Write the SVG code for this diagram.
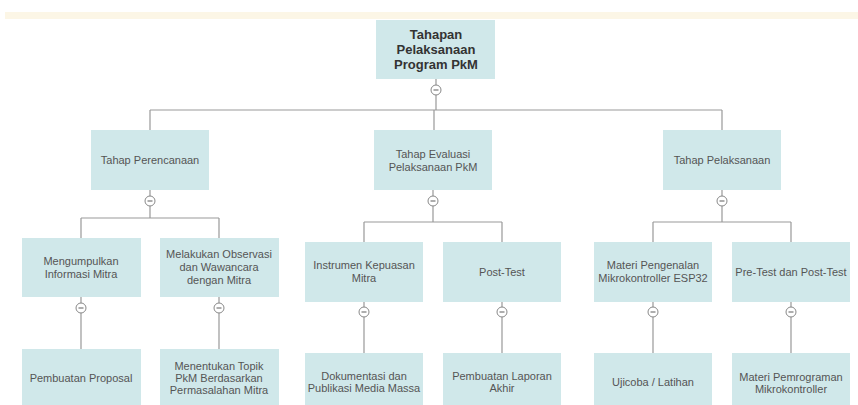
<svg xmlns="http://www.w3.org/2000/svg" width="858" height="405" viewBox="0 0 858 405">
<style>
.box{fill:#D0E8EA}
.t{font-family:"Liberation Sans",Arial,sans-serif;font-size:11px;fill:#555;text-anchor:middle;dominant-baseline:central}
.rt{font-family:"Liberation Sans",Arial,sans-serif;font-size:13px;font-weight:bold;fill:#333;text-anchor:middle;dominant-baseline:central}
.ln{stroke:#999;stroke-width:1.2;fill:none}
.tog circle{fill:#fff;stroke:#888;stroke-width:1}
.tog line{stroke:#777;stroke-width:1.2}
</style>
<defs>
<g id="tg" class="tog"><circle r="5"/><line x1="-2.5" y1="0" x2="2.5" y2="0"/></g>
</defs>
<rect x="5" y="12" width="853" height="7" fill="#FCF6E6"/>
<g id="connectors">
<path class="ln" d="M436 79V110M150 110H722M150 110V130M434 110V130M722 110V130"/>
<path class="ln" d="M150 190V218M81 218H219M81 218V238M219 218V238"/>
<path class="ln" d="M433 190V222M364 222H502M364 222V242M502 222V242"/>
<path class="ln" d="M722 190V222M653 222H791M653 222V242M791 222V242"/>
<path class="ln" d="M81 297V349M219 297V349"/>
<path class="ln" d="M364 302V353M502 302V353M653 302V353M791 302V353"/>
<use href="#tg" x="436" y="90"/>
<use href="#tg" x="150" y="201"/>
<use href="#tg" x="433" y="201"/>
<use href="#tg" x="722" y="201"/>
<use href="#tg" x="81" y="308"/>
<use href="#tg" x="219" y="308"/>
<use href="#tg" x="364" y="312"/>
<use href="#tg" x="502" y="312"/>
<use href="#tg" x="653" y="312"/>
<use href="#tg" x="791" y="312"/>
</g>
<g id="root"><rect class="box" x="376" y="20" width="119" height="59"/>
<text class="rt" x="436" y="34">Tahapan</text><text class="rt" x="436" y="49">Pelaksanaan</text><text class="rt" x="436" y="64">Program PkM</text></g>
<g id="perencanaan"><rect class="box" x="91" y="130" width="118" height="60"/><text class="t" x="150" y="160">Tahap Perencanaan</text></g>
<g id="evaluasi"><rect class="box" x="374" y="130" width="118" height="60"/><text class="t" x="433" y="154">Tahap Evaluasi</text><text class="t" x="433" y="167">Pelaksanaan PkM</text></g>
<g id="pelaksanaan"><rect class="box" x="663" y="130" width="118" height="60"/><text class="t" x="722" y="160">Tahap Pelaksanaan</text></g>
<g id="mengumpulkan"><rect class="box" x="22" y="238" width="119" height="59"/><text class="t" x="81" y="261">Mengumpulkan</text><text class="t" x="81" y="274">Informasi Mitra</text></g>
<g id="observasi"><rect class="box" x="160" y="238" width="119" height="59"/><text class="t" x="219" y="254">Melakukan Observasi</text><text class="t" x="219" y="267">dan Wawancara</text><text class="t" x="219" y="280">dengan Mitra</text></g>
<g id="instrumen"><rect class="box" x="305" y="242" width="118" height="60"/><text class="t" x="364" y="265">Instrumen Kepuasan</text><text class="t" x="364" y="278">Mitra</text></g>
<g id="posttest"><rect class="box" x="443" y="242" width="118" height="60"/><text class="t" x="502" y="272">Post-Test</text></g>
<g id="materi-esp32"><rect class="box" x="594" y="242" width="118" height="60"/><text class="t" x="653" y="265">Materi Pengenalan</text><text class="t" x="653" y="278">Mikrokontroller ESP32</text></g>
<g id="pretest"><rect class="box" x="732" y="242" width="118" height="60"/><text class="t" x="791" y="272">Pre-Test dan Post-Test</text></g>
<g id="proposal"><rect class="box" x="22" y="349" width="119" height="60"/><text class="t" x="81" y="378">Pembuatan Proposal</text></g>
<g id="topik"><rect class="box" x="160" y="349" width="119" height="60"/><text class="t" x="219" y="366">Menentukan Topik</text><text class="t" x="219" y="378">PkM Berdasarkan</text><text class="t" x="219" y="390">Permasalahan Mitra</text></g>
<g id="dokumentasi"><rect class="box" x="305" y="353" width="118" height="60"/><text class="t" x="364" y="376">Dokumentasi dan</text><text class="t" x="364" y="388">Publikasi Media Massa</text></g>
<g id="laporan"><rect class="box" x="443" y="353" width="118" height="60"/><text class="t" x="502" y="376">Pembuatan Laporan</text><text class="t" x="502" y="388">Akhir</text></g>
<g id="ujicoba"><rect class="box" x="594" y="353" width="118" height="60"/><text class="t" x="653" y="382">Ujicoba / Latihan</text></g>
<g id="pemrograman"><rect class="box" x="732" y="353" width="118" height="60"/><text class="t" x="791" y="377">Materi Pemrograman</text><text class="t" x="791" y="389">Mikrokontroller</text></g>
</svg>
